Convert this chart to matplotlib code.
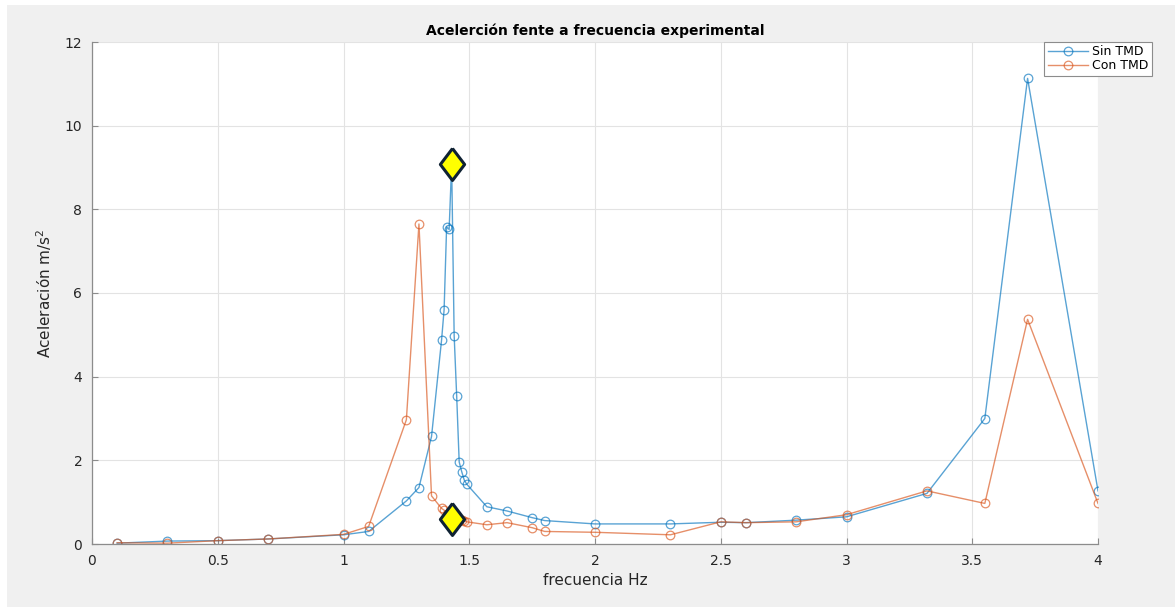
import numpy as np
import matplotlib
matplotlib.use("Agg")
import matplotlib.pyplot as plt
from matplotlib.patches import Rectangle

# frecuencia (Hz) and aceleracion (m/s^2)
freq = [0.1, 0.3, 0.5, 0.7, 1.0, 1.1, 1.25, 1.3, 1.35, 1.39, 1.40, 1.41, 1.42,
        1.43, 1.44, 1.45, 1.46, 1.47, 1.48, 1.49, 1.57, 1.65, 1.75, 1.80, 2.0,
        2.3, 2.5, 2.6, 2.8, 3.0, 3.32, 3.55, 3.72, 4.0]
sin_tmd = [0.02, 0.07, 0.08, 0.12, 0.22, 0.30, 1.03, 1.35, 2.57, 4.88, 5.60,
           7.58, 7.52, 9.08, 4.98, 3.54, 1.96, 1.73, 1.53, 1.43, 0.89, 0.79,
           0.63, 0.56, 0.48, 0.48, 0.52, 0.51, 0.57, 0.65, 1.21, 3.00, 11.13, 1.27]
con_tmd = [0.03, 0.02, 0.08, 0.12, 0.23, 0.42, 2.97, 7.65, 1.15, 0.85, 0.81,
           0.72, 0.66, 0.60, 0.58, 0.58, 0.57, 0.57, 0.56, 0.53, 0.46, 0.51,
           0.39, 0.30, 0.28, 0.22, 0.53, 0.51, 0.53, 0.70, 1.27, 0.97, 5.37, 0.97]

# data tips marking the resonance of the structure
tip_x = [1.43, 1.43]
tip_y = [9.08, 0.60]

blue = '#0072BD'
orange = '#D95319'

fig = plt.figure(figsize=(11.75, 6.07), dpi=100, facecolor='white')
fig.patches.append(Rectangle((7 / 1175, 0), 1, 1 - 5 / 607, transform=fig.transFigure,
                             facecolor='#f0f0f0', edgecolor='none', zorder=-10))

ax = fig.add_axes([92 / 1175, 63 / 607, 1006 / 1175, 502 / 607])
ax.set_facecolor('white')

ax.plot(freq, sin_tmd, '-o', color=blue, alpha=0.65, lw=1.0, ms=6.2,
        mfc='none', mew=0.9, label='Sin TMD')
ax.plot(freq, con_tmd, '-o', color=orange, alpha=0.65, lw=1.0, ms=6.2,
        mfc='none', mew=0.9, label='Con TMD')

diamond = [(0, 1), (0.76, 0), (0, -1), (-0.76, 0), (0, 1)]
ax.plot(tip_x, tip_y, ls='none', marker=diamond, ms=23, mfc='#ffff00',
        mec='#0f2233', mew=2.2, zorder=5)

ax.set_xlim(0, 4)
ax.set_ylim(0, 12)
ax.set_xticks(np.arange(0, 4.01, 0.5))
ax.set_xticklabels(['0', '0.5', '1', '1.5', '2', '2.5', '3', '3.5', '4'])
ax.set_yticks(np.arange(0, 12.1, 2))

ax.grid(True, color='#e3e3e3', lw=0.8)
ax.set_axisbelow(True)
for s in ['top', 'right']:
    ax.spines[s].set_visible(False)
for s in ['left', 'bottom']:
    ax.spines[s].set_color('#8c8c8c')
    ax.spines[s].set_linewidth(0.9)
ax.tick_params(direction='in', length=4, width=0.8, color='#8c8c8c',
               labelsize=10, labelcolor='#262626', pad=7)

ax.set_title('Acelerción fente a frecuencia experimental', fontsize=10,
             fontweight='bold', color='black', pad=5)
ax.set_xlabel('frecuencia Hz', fontsize=11, color='#262626', labelpad=4)
ax.set_ylabel('Aceleración m/s$^2$', fontsize=11, color='#262626', labelpad=8)

leg = ax.legend(loc='upper right', bbox_to_anchor=(1152 / 1175, 1 - 42 / 607),
                bbox_transform=fig.transFigure, fontsize=9, frameon=True,
                fancybox=False, framealpha=1, edgecolor='#8c8c8c',
                handlelength=3.2, handletextpad=0.4, borderpad=0.25,
                labelspacing=0.1, borderaxespad=0)
leg.get_frame().set_linewidth(0.8)

fig.savefig('out.png', dpi=100, facecolor=fig.get_facecolor())
